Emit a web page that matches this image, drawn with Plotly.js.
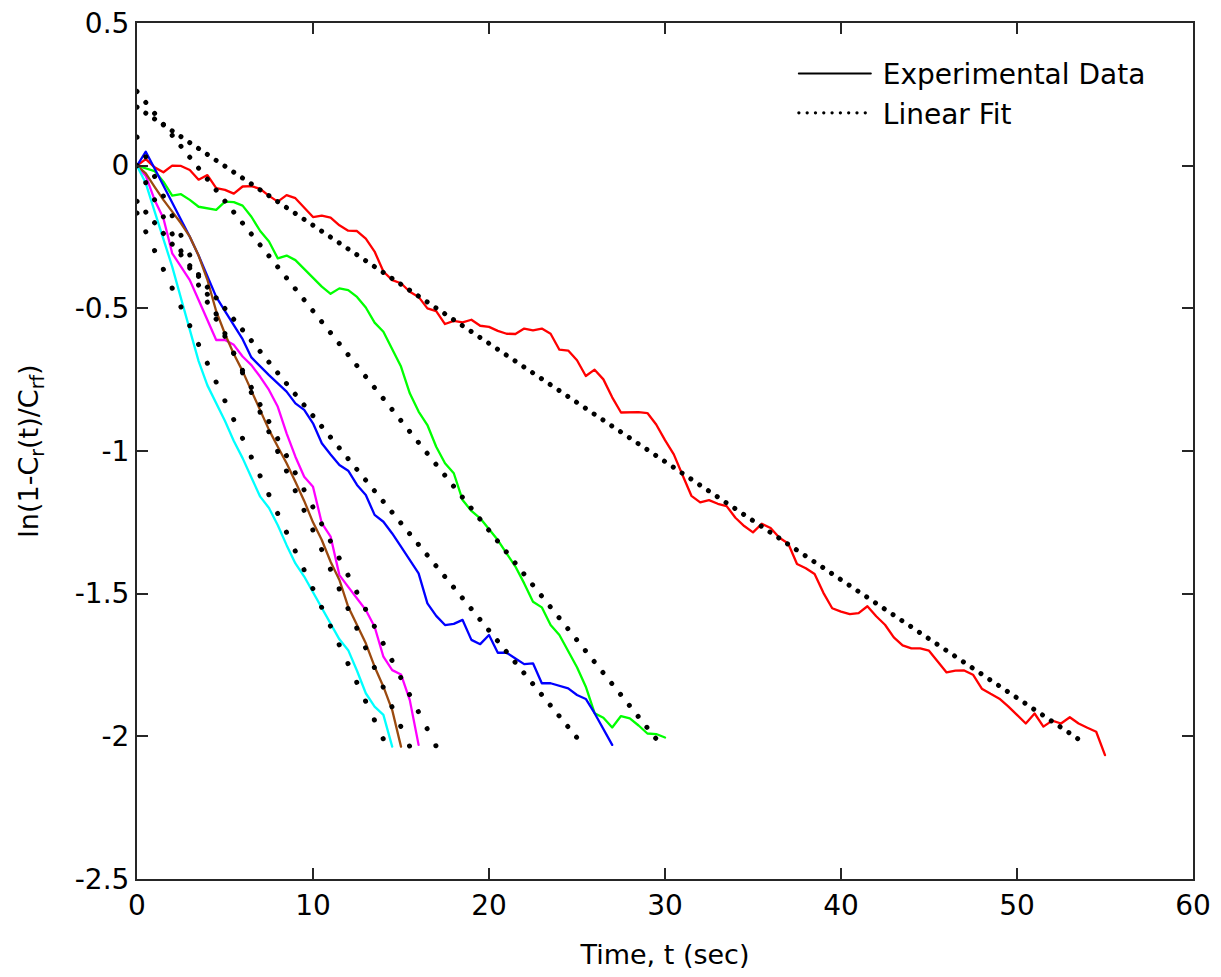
<!DOCTYPE html>
<html><head><meta charset="utf-8">
<script src="https://cdn.plot.ly/plotly-3.0.1.min.js"></script>
<style>
html,body{margin:0;padding:0;background:#fff;}
#chart{width:1221px;height:977px;}
.scatterlayer .js-line, .legend .js-line { stroke-linecap: round !important; stroke-linejoin: round; }
</style></head><body><div id="chart"></div>
<script>
// sample times (s), shared by all experimental series
const timeGrid = [0,0.5,1,1.5,2,2.5,3,3.5,4,4.5,5,5.5,6,6.5,7,7.5,8,8.5,9,9.5,
  10,10.5,11,11.5,12,12.5,13,13.5,14,14.5,15,15.5,16,16.5,17,17.5,18,18.5,19,19.5,
  20,20.5,21,21.5,22,22.5,23,23.5,24,24.5,25,25.5,26,26.5,27,27.5,28,28.5,29,29.5,
  30,30.5,31,31.5,32,32.5,33,33.5,34,34.5,35,35.5,36,36.5,37,37.5,38,38.5,39,39.5,
  40,40.5,41,41.5,42,42.5,43,43.5,44,44.5,45,45.5,46,46.5,47,47.5,48,48.5,49,49.5,
  50,50.5,51,51.5,52,52.5,53,53.5,54,54.5,55];

const redData = [0,0.023,-0.006,-0.023,0.0,-0.001,-0.015,-0.049,-0.033,-0.079,
  -0.085,-0.098,-0.073,-0.072,-0.081,-0.106,-0.126,-0.103,-0.114,-0.147,
  -0.180,-0.175,-0.182,-0.209,-0.228,-0.229,-0.256,-0.301,-0.371,-0.401,
  -0.412,-0.442,-0.460,-0.500,-0.510,-0.555,-0.544,-0.549,-0.540,-0.561,
  -0.565,-0.579,-0.589,-0.590,-0.571,-0.577,-0.571,-0.589,-0.645,-0.648,
  -0.682,-0.737,-0.715,-0.749,-0.812,-0.865,-0.864,-0.864,-0.867,-0.907,
  -0.962,-1.012,-1.085,-1.157,-1.180,-1.172,-1.185,-1.193,-1.234,-1.263,
  -1.285,-1.255,-1.270,-1.304,-1.324,-1.396,-1.411,-1.431,-1.497,-1.551,
  -1.563,-1.572,-1.568,-1.544,-1.579,-1.609,-1.653,-1.681,-1.692,-1.692,
  -1.700,-1.736,-1.776,-1.770,-1.769,-1.784,-1.833,-1.851,-1.868,-1.895,
  -1.925,-1.955,-1.920,-1.966,-1.945,-1.955,-1.933,-1.955,-1.970,-1.984,
  -2.066];

const greenData = [0,-0.009,-0.019,-0.056,-0.105,-0.100,-0.120,-0.144,-0.149,-0.155,
  -0.126,-0.128,-0.140,-0.179,-0.229,-0.266,-0.325,-0.315,-0.331,-0.362,
  -0.395,-0.424,-0.449,-0.430,-0.436,-0.460,-0.497,-0.550,-0.582,-0.645,
  -0.704,-0.798,-0.862,-0.909,-0.985,-1.043,-1.078,-1.172,-1.210,-1.236,
  -1.274,-1.312,-1.359,-1.405,-1.464,-1.528,-1.548,-1.610,-1.645,-1.703,
  -1.758,-1.826,-1.919,-1.935,-1.969,-1.929,-1.937,-1.962,-1.990,-1.992,
  -2.004];

const blueData = [0,0.049,-0.010,-0.070,-0.130,-0.190,-0.249,-0.315,-0.390,-0.460,
  -0.510,-0.560,-0.608,-0.672,-0.704,-0.734,-0.763,-0.792,-0.833,-0.856,
  -0.903,-0.973,-1.012,-1.049,-1.069,-1.119,-1.154,-1.224,-1.248,-1.289,
  -1.335,-1.380,-1.429,-1.534,-1.578,-1.610,-1.606,-1.592,-1.662,-1.677,
  -1.645,-1.707,-1.707,-1.727,-1.747,-1.744,-1.814,-1.814,-1.823,-1.832,
  -1.855,-1.869,-1.919,-1.976,-2.030];

const magentaData = [0,-0.036,-0.120,-0.184,-0.307,-0.354,-0.401,-0.471,-0.541,-0.611,
  -0.611,-0.628,-0.669,-0.699,-0.740,-0.786,-0.845,-0.938,-1.020,-1.090,
  -1.125,-1.253,-1.300,-1.435,-1.476,-1.516,-1.557,-1.616,-1.721,-1.768,
  -1.783,-1.873,-2.030];

const brownData = [0,-0.027,-0.074,-0.120,-0.161,-0.202,-0.249,-0.315,-0.400,-0.510,
  -0.590,-0.660,-0.720,-0.790,-0.856,-0.926,-0.985,-1.043,-1.108,-1.175,
  -1.250,-1.312,-1.388,-1.452,-1.546,-1.610,-1.674,-1.756,-1.826,-1.908,
  -2.036];

const cyanData = [0,-0.062,-0.160,-0.260,-0.354,-0.465,-0.580,-0.685,-0.770,-0.830,
  -0.895,-0.965,-1.025,-1.093,-1.160,-1.200,-1.260,-1.330,-1.394,-1.440,
  -1.495,-1.545,-1.605,-1.660,-1.698,-1.770,-1.849,-1.896,-1.925,-2.036];

// linear fits: start/end times and fitted values at those times
const fitNames   = ['red','green','blue','magenta','brown','cyan'];
const fitT0      = [0, 0, 0, 0, 0, 0];
const fitT1      = [53.5, 29.5, 25, 17, 15.5, 14];
const fitY0      = [0.205, 0.26, -0.125, 0.0, 0.10, -0.166];
const fitY1      = [-2.010, -2.009, -2.005, -2.035, -2.036, -2.010];

const xTickVals = [0,10,20,30,40,50,60];
const xTickText = ['0','10','20','30','40','50','60'];
const yTickVals = [0.5,0,-0.5,-1,-1.5,-2,-2.5];
const yTickText = ['0.5','0','-0.5','-1','-1.5','-2','-2.5'];

const legendLabels = ['Experimental Data','Linear Fit'];

const W = 1221, H = 977;
const M = {l:137, r:28, t:23, b:98};
const plotW = W - M.l - M.r, plotH = H - M.t - M.b;
const pxPerX = plotW / 60, pxPerY = plotH / 3;

const series = [
  {y: redData, color: '#ff0000'},
  {y: greenData, color: '#00ff00'},
  {y: magentaData, color: '#ff00ff'},
  {y: blueData, color: '#0000ff'},
  {y: brownData, color: '#9b4a0f'},
  {y: cyanData, color: '#00ffff'}
];

const traces = [];
// legend-only entries
traces.push({x:[null], y:[null], mode:'lines', name: legendLabels[0],
  line:{color:'#000', width:2}, showlegend:true, hoverinfo:'skip'});
traces.push({x:[null], y:[null], mode:'lines', name: legendLabels[1],
  line:{color:'#000', width:3.2, dash:'0.1px,8.2px'}, showlegend:true, hoverinfo:'skip'});

series.forEach(s => {
  traces.push({x: timeGrid.slice(0, s.y.length), y: s.y, mode:'lines',
    line:{color:s.color, width:2.3}, showlegend:false, hoverinfo:'skip'});
});

for (let i = 0; i < fitNames.length; i++) {
  const slope = (fitY1[i]-fitY0[i])/(fitT1[i]-fitT0[i]);
  const gap = 0.5*Math.sqrt(pxPerX*pxPerX + (slope*pxPerY)*(slope*pxPerY)) * 0.999;
  traces.push({x:[fitT0[i], fitT1[i]], y:[fitY0[i], fitY1[i]], mode:'lines',
    line:{color:'#000', width:5, dash:'0.01px,' + (gap-0.01).toFixed(3) + 'px'},
    showlegend:false, hoverinfo:'skip'});
}

const fontFam = '"DejaVu Sans", Arial, sans-serif';
const axisCommon = {
  showline:true, linecolor:'#262626', linewidth:2, mirror:'ticks',
  ticks:'inside', ticklen:11, tickwidth:2, tickcolor:'#262626',
  showgrid:false, zeroline:false, tickmode:'array',
  tickfont:{family:fontFam, size:28, color:'#000'}
};

const layout = {
  width:W, height:H, margin:M, paper_bgcolor:'#fff', plot_bgcolor:'#fff',
  showlegend:true,
  xaxis: Object.assign({}, axisCommon, {range:[0,60], tickvals:xTickVals, ticktext:xTickText,
    title:{text:'Time, t (sec)', font:{family:fontFam, size:27, color:'#000'}, standoff:25}}),
  yaxis: Object.assign({}, axisCommon, {range:[-2.5,0.5], tickvals:yTickVals, ticktext:yTickText,
    title:{text:'ln(1-C<sub>r</sub>(t)/C<sub>rf</sub>)', font:{family:fontFam, size:27, color:'#000'}, standoff:28}}),
  legend:{x:0.622, y:0.970, xanchor:'left', yanchor:'top', bgcolor:'rgba(0,0,0,0)',
    borderwidth:0, font:{family:fontFam, size:28, color:'#000'}, itemwidth:79},
};

Plotly.newPlot('chart', traces, layout, {staticPlot:true, displayModeBar:false}).then(() => {
  document.querySelectorAll('.legend .legendlines path.js-line').forEach(p => {
    p.setAttribute('d', 'M5,0h72');
  });
});
</script></body></html>
